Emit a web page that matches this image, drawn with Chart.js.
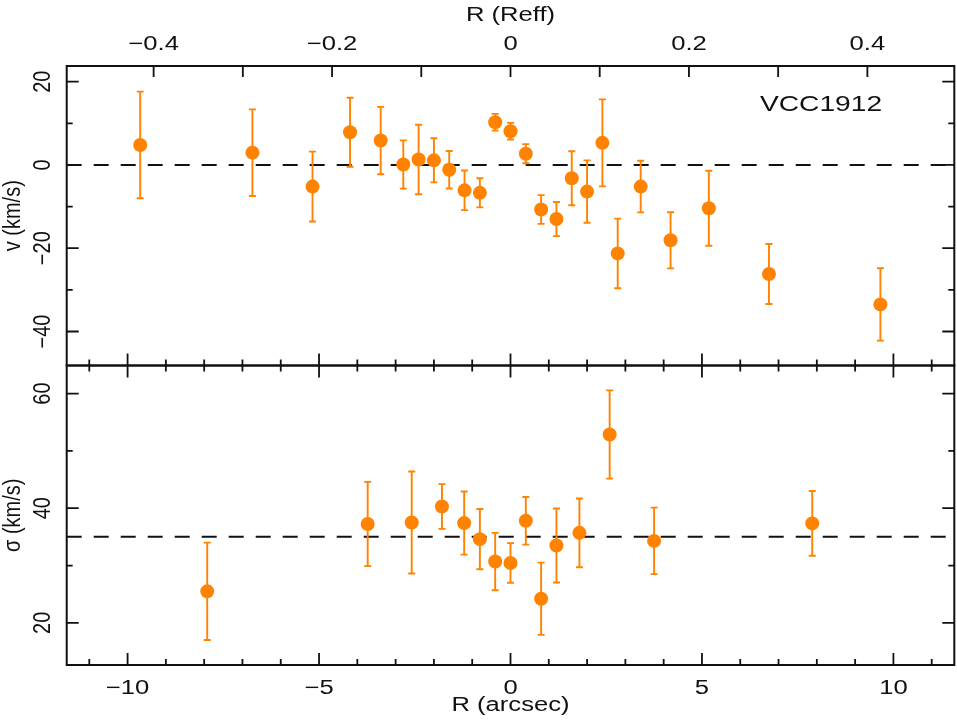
<!DOCTYPE html>
<html>
<head>
<meta charset="utf-8">
<title>VCC1912</title>
<script src="https://cdn.jsdelivr.net/npm/chart.js@4/dist/chart.umd.min.js"></script>
<style>
  html, body { margin: 0; padding: 0; background: #fff; }
  canvas { display: block; }
</style>
</head>
<body>
<canvas id="grafico" width="957" height="720"></canvas>
<script>
// datos
const rVel = [-9.67, -6.74, -5.17, -4.19, -3.39, -2.80, -2.40, -2.00, -1.60, -1.20, -0.80, -0.40, 0.00,
  0.40, 0.80, 1.20, 1.60, 2.00, 2.40, 2.80, 3.40, 4.18, 5.18, 6.75, 9.66];
const vel = [4.8, 2.95, -5.2, 7.85, 5.85, 0.1, 1.3, 1.1, -1.15, -6.1, -6.7, 10.25, 8.1,
  2.7, -10.7, -13.0, -3.2, -6.4, 5.3, -21.25, -5.2, -18.1, -10.4, -26.2, -33.5];
const velErr = [12.8, 10.4, 8.4, 8.3, 8.1, 5.8, 8.35, 5.3, 4.5, 4.75, 3.5, 2.0, 2.0,
  2.3, 3.45, 4.1, 6.5, 7.5, 10.45, 8.35, 6.2, 6.75, 9.0, 7.2, 8.7];

const rSig = [-7.92, -3.73, -2.58, -1.79, -1.21, -0.80, -0.40, 0.00, 0.40, 0.80, 1.20, 1.80, 2.59, 3.75, 7.88];
const sig = [25.5, 37.25, 37.5, 40.3, 37.4, 34.6, 30.7, 30.45, 37.8, 24.2, 33.5, 35.7, 52.85, 34.3, 37.35];
const sigErr = [8.5, 7.35, 8.9, 3.9, 5.5, 5.25, 5.0, 3.45, 4.15, 6.3, 6.45, 6.0, 7.7, 5.8, 5.65];

const velRef = 0;
const sigRef = 35;

// ejes
const xTicks = [-10, -5, 0, 5, 10];
const reffTicks = [-0.4, -0.2, 0, 0.2, 0.4];
const velTicks = [-40, -20, 0, 20];
const sigTicks = [20, 40, 60];
const rEff = 23.3;          // arcsec por Reff
const xMin = -11.59, xMax = 11.59;
const velMin = -48.17, velMax = 23.76;
const sigMin = 12.65, sigMax = 64.89;

const naranja = '#ff8300';
const negro = '#111';
const fuente = { family: '"Liberation Sans", Arial, sans-serif', size: 20 };

// el texto del original esta estirado en horizontal
const canvas = document.getElementById('grafico');
const ctx = canvas.getContext('2d');
const fillTextOrig = ctx.fillText.bind(ctx);
ctx.fillText = function (text, x, y, maxWidth) {
  const m = ctx.getTransform();
  const rotado = Math.abs(m.b) > Math.abs(m.a);
  const sx = rotado ? 1.15 : 1.28;
  const p = m.transformPoint(new DOMPoint(x, y));
  ctx.save();
  ctx.setTransform(new DOMMatrix().translate(p.x, p.y).scale(sx, 1).translate(-p.x, -p.y).multiply(m));
  if (maxWidth === undefined) fillTextOrig(text, x, y);
  else fillTextOrig(text, x, y, maxWidth);
  ctx.restore();
};

function etiqueta(v) {
  if (Math.abs(v) < 1e-9) return '0';
  return String(+v.toFixed(2)).replace('-', '\u2212');
}

// barras de error de cada dataset
const barrasError = {
  id: 'barrasError',
  beforeDatasetDraw(chart, args) {
    const ds = chart.data.datasets[args.index];
    if (!ds.errores) return;
    const sx = chart.scales[ds.xAxisID];
    const sy = chart.scales[ds.yAxisID];
    const c = chart.ctx;
    c.save();
    c.strokeStyle = naranja;
    c.lineWidth = 1.9;
    ds.data.forEach((p, i) => {
      const px = sx.getPixelForValue(p.x);
      const y1 = sy.getPixelForValue(p.y + ds.errores[i]);
      const y2 = sy.getPixelForValue(p.y - ds.errores[i]);
      c.beginPath();
      c.moveTo(px, y1); c.lineTo(px, y2);
      c.moveTo(px - 3.5, y1); c.lineTo(px + 3.5, y1);
      c.moveTo(px - 3.5, y2); c.lineTo(px + 3.5, y2);
      c.stroke();
    });
    c.restore();
  }
};

// marco y marcas hacia adentro
const marco = {
  id: 'marco',
  afterDatasetsDraw(chart) {
    const c = chart.ctx;
    const { x, xr, yv, ys } = chart.scales;
    const izq = x.left, der = x.right;
    c.save();
    c.strokeStyle = negro;
    c.lineWidth = 2;
    c.strokeRect(izq, yv.top, der - izq, yv.bottom - yv.top);
    c.strokeRect(izq, ys.top, der - izq, ys.bottom - ys.top);

    c.lineWidth = 1.8;
    c.beginPath();
    // eje inferior y linea divisoria
    for (let v = -11; v <= 11; v++) {
      const px = x.getPixelForValue(v);
      const largo = v % 5 === 0 ? 12 : 6;
      c.moveTo(px, ys.bottom); c.lineTo(px, ys.bottom - largo);
      c.moveTo(px, yv.bottom); c.lineTo(px, yv.bottom - largo);
      c.moveTo(px, ys.top); c.lineTo(px, ys.top + largo);
    }
    // eje superior en Reff
    for (let k = -4; k <= 4; k++) {
      const px = xr.getPixelForValue(k / 10);
      c.moveTo(px, yv.top); c.lineTo(px, yv.top + 11);
    }
    // ejes verticales
    for (let v = -40; v <= 20; v += 10) {
      const py = yv.getPixelForValue(v);
      const largo = v % 20 === 0 ? 12 : 6;
      c.moveTo(izq, py); c.lineTo(izq + largo, py);
      c.moveTo(der, py); c.lineTo(der - largo, py);
    }
    for (let v = 20; v <= 60; v += 10) {
      const py = ys.getPixelForValue(v);
      const largo = v % 20 === 0 ? 12 : 6;
      c.moveTo(izq, py); c.lineTo(izq + largo, py);
      c.moveTo(der, py); c.lineTo(der - largo, py);
    }
    c.stroke();

    // nombre de la galaxia
    c.fillStyle = negro;
    c.font = '22px "Liberation Sans", Arial, sans-serif';
    c.textAlign = 'center';
    c.textBaseline = 'middle';
    c.fillText('VCC1912', x.getPixelForValue(8.11), yv.getPixelForValue(14.3));
    c.restore();
  }
};

function lineaRef(valor, eje) {
  return {
    type: 'line',
    data: [{ x: xMin, y: valor }, { x: xMax, y: valor }],
    xAxisID: 'x', yAxisID: eje,
    borderColor: negro, borderWidth: 2, borderDash: [15, 12],
    pointRadius: 0, order: 2
  };
}

const ejeBase = {
  grid: { display: false, drawTicks: false },
  border: { display: false }
};

// sin margen extra por las etiquetas de los extremos
function sinRelleno(s) {
  s.paddingLeft = 0; s.paddingRight = 0; s.paddingTop = 0; s.paddingBottom = 0;
}

new Chart(ctx, {
  type: 'scatter',
  data: {
    datasets: [
      lineaRef(velRef, 'yv'),
      lineaRef(sigRef, 'ys'),
      {
        data: rVel.map((r, i) => ({ x: r, y: vel[i] })),
        errores: velErr,
        xAxisID: 'x', yAxisID: 'yv',
        backgroundColor: naranja, pointRadius: 7, pointBorderWidth: 0, order: 1
      },
      {
        data: rSig.map((r, i) => ({ x: r, y: sig[i] })),
        errores: sigErr,
        xAxisID: 'x', yAxisID: 'ys',
        backgroundColor: naranja, pointRadius: 7, pointBorderWidth: 0, order: 1
      }
    ]
  },
  options: {
    responsive: false,
    animation: false,
    devicePixelRatio: 1,
    layout: { autoPadding: false, padding: { left: 0, right: 2.7, top: 0, bottom: 0 } },
    plugins: { legend: { display: false }, tooltip: { enabled: false } },
    scales: {
      x: {
        ...ejeBase, type: 'linear', position: 'bottom', min: xMin, max: xMax,
        ticks: { font: fuente, color: negro, padding: 11.5, callback: etiqueta },
        title: { display: true, text: 'R (arcsec)', font: fuente, color: negro, padding: { top: 0, bottom: 3 } },
        afterBuildTicks: s => { s.ticks = xTicks.map(v => ({ value: v })); },
        afterFit: s => { s.height = 55; sinRelleno(s); }
      },
      xr: {
        ...ejeBase, type: 'linear', axis: 'x', position: 'top', min: xMin / rEff, max: xMax / rEff,
        ticks: { font: fuente, color: negro, padding: 9.5, callback: etiqueta },
        title: { display: true, text: 'R (Reff)', font: fuente, color: negro, padding: { top: 3, bottom: 0 } },
        afterBuildTicks: s => { s.ticks = reffTicks.map(v => ({ value: v })); },
        afterFit: s => { s.height = 66; sinRelleno(s); }
      },
      // el panel de abajo se declara primero: la pila pone el ultimo arriba
      ys: {
        ...ejeBase, type: 'linear', axis: 'y', position: 'left', stack: 'paneles', stackWeight: 1,
        min: sigMin, max: sigMax,
        ticks: { font: fuente, color: negro, minRotation: 90, maxRotation: 90, crossAlign: 'center', padding: 12.3, callback: etiqueta },
        title: { display: true, text: '\u03c3 (km/s)', font: fuente, color: negro, padding: { top: 2, bottom: 0 } },
        afterBuildTicks: s => { s.ticks = sigTicks.map(v => ({ value: v })); },
        afterFit: s => { s.width = 66.7; sinRelleno(s); }
      },
      yv: {
        ...ejeBase, type: 'linear', axis: 'y', position: 'left', stack: 'paneles', stackWeight: 1,
        min: velMin, max: velMax,
        ticks: { font: fuente, color: negro, minRotation: 90, maxRotation: 90, crossAlign: 'center', padding: 6.5, callback: etiqueta },
        title: { display: true, text: 'v (km/s)', font: fuente, color: negro, padding: { top: 2, bottom: 0 } },
        afterBuildTicks: s => { s.ticks = velTicks.map(v => ({ value: v })); },
        afterFit: s => { s.width = 66.7; sinRelleno(s); }
      }
    }
  },
  plugins: [barrasError, marco]
});
</script>
</body>
</html>
